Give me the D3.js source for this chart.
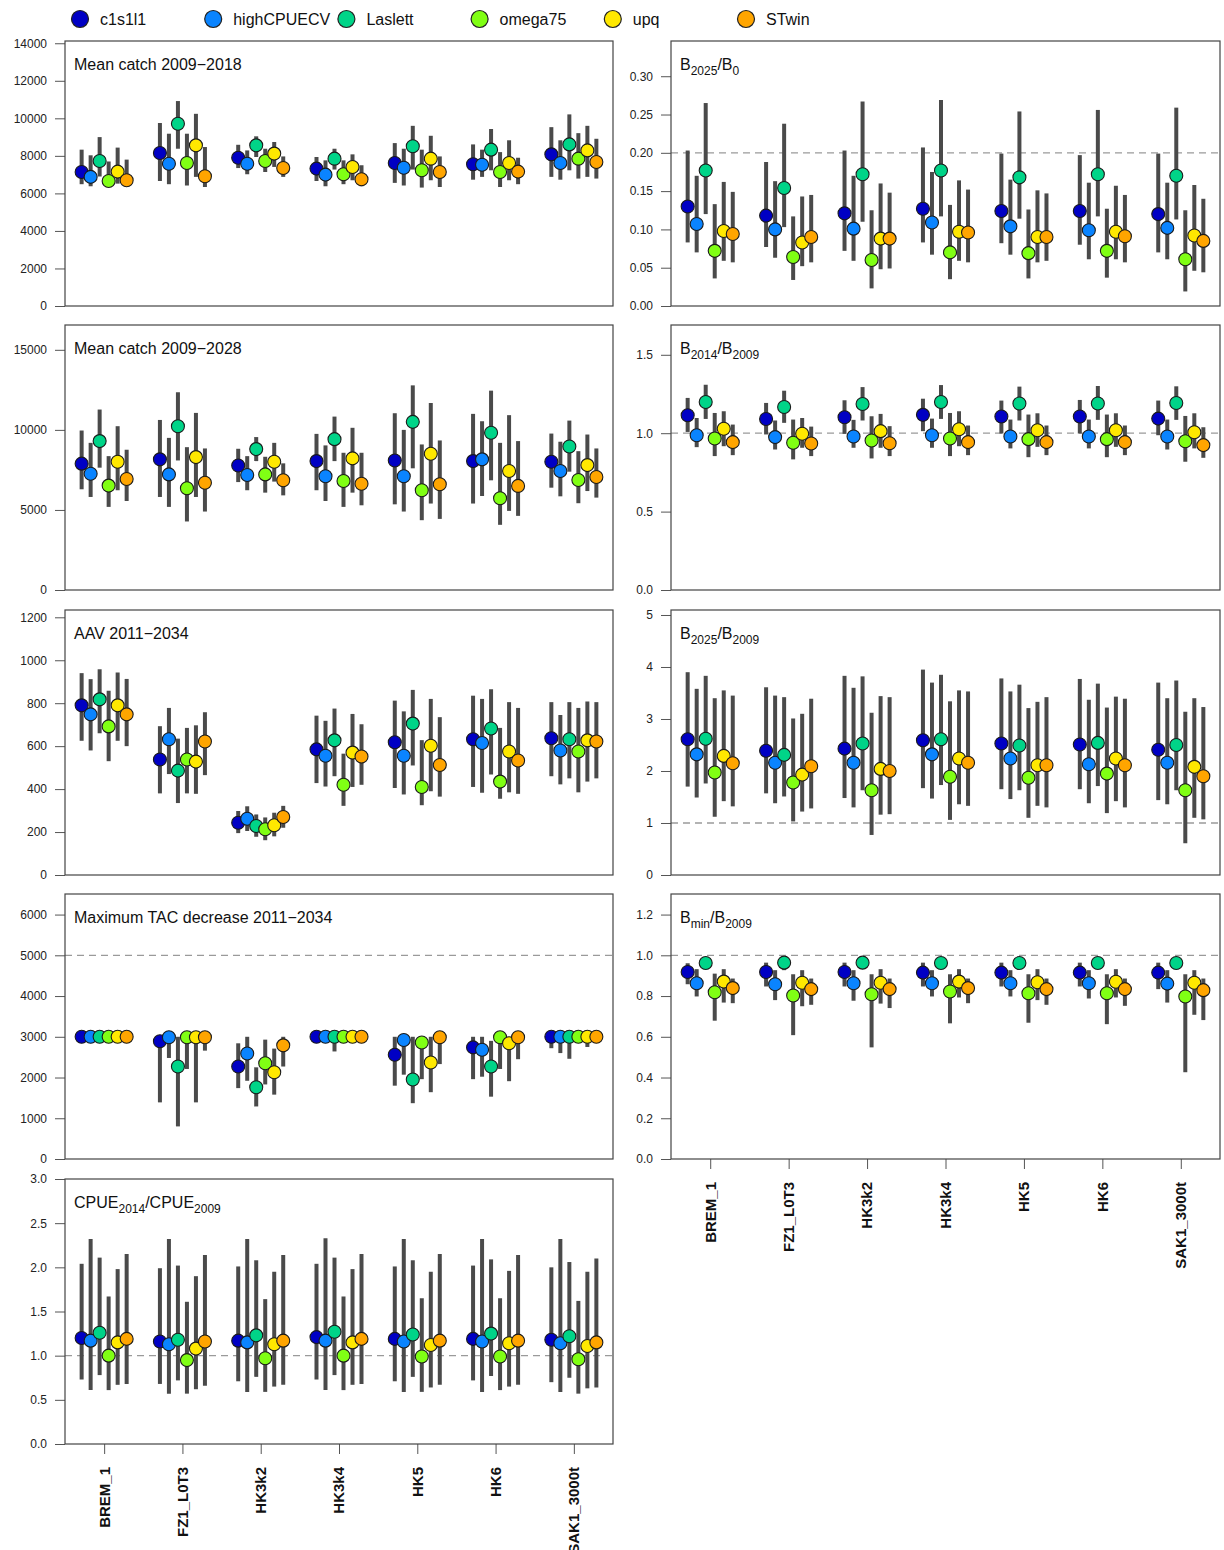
<!DOCTYPE html>
<html>
<head>
<meta charset="utf-8">
<script src="https://cdn.jsdelivr.net/npm/d3@7"></script>
<style>
  html, body { margin: 0; padding: 0; background: #fff; }
  svg { display: block; font-family: "Liberation Sans", Arial, sans-serif; }
</style>
</head>
<body>
<svg id="chart" width="1224" height="1550"></svg>
<script>
// Management procedures (series) and operating-model scenarios (groups)
const groups = ["BREM_1", "FZ1_L0T3", "HK3k2", "HK3k4", "HK5", "HK6", "SAK1_3000t"];
const series = ["c1s1l1", "highCPUECV", "Laslett", "omega75", "upq", "STwin"];
const seriesColors = ["#0000C4", "#0A84FF", "#00D488", "#80FF14", "#FFE800", "#FFA500"];

// Each table: one row per group, one column per series (median, lower, upper)
const catch18Mid = [
  [7140, 6880, 7730, 6660, 7160, 6700],
  [8150, 7580, 9710, 7620, 8560, 6910],
  [7900, 7580, 8560, 7730, 8120, 7350],
  [7320, 7000, 7850, 7020, 7410, 6750],
  [7620, 7370, 8510, 7230, 7850, 7140],
  [7550, 7530, 8330, 7140, 7620, 7160],
  [8080, 7620, 8610, 7850, 8290, 7670]];
const catch18Lo = [
  [6490, 6380, 6900, 6350, 6520, 6380],
  [6660, 6490, 8380, 6420, 6880, 6340],
  [7350, 7020, 7940, 7140, 7410, 6880],
  [6660, 6380, 7270, 6490, 6700, 6380],
  [6560, 6420, 7270, 6310, 6700, 6340],
  [6730, 6880, 7230, 6340, 6700, 6490],
  [6880, 6730, 7230, 6790, 6880, 6790]];
const catch18Hi = [
  [8330, 8030, 9000, 7700, 8440, 7800],
  [9750, 9180, 10920, 9180, 10240, 8470],
  [8590, 8290, 9040, 8380, 8740, 7970],
  [7940, 7760, 8380, 7760, 8080, 7500],
  [8680, 8380, 9600, 8330, 9070, 7970],
  [8610, 8330, 9430, 8200, 8830, 7900],
  [9530, 8830, 10210, 9210, 9600, 8910]];

const catch28Mid = [
  [7890, 7260, 9300, 6520, 8010, 6930],
  [8160, 7220, 10230, 6350, 8300, 6700],
  [7780, 7180, 8800, 7220, 8010, 6850],
  [8050, 7100, 9420, 6810, 8220, 6640],
  [8090, 7100, 10500, 6230, 8510, 6600],
  [8050, 8160, 9820, 5730, 7430, 6500],
  [8010, 7430, 8960, 6870, 7800, 7060]];
const catch28Lo = [
  [6290, 5810, 7640, 5190, 6230, 5560],
  [5810, 5190, 8090, 4280, 5810, 4900],
  [6740, 6230, 8050, 6080, 6770, 5910],
  [6230, 5560, 8050, 5190, 6080, 5290],
  [5350, 4900, 7600, 4360, 5400, 4440],
  [5400, 5870, 6850, 4070, 4940, 4630],
  [6390, 5850, 7390, 5420, 6180, 5770]];
const catch28Hi = [
  [9960, 9190, 11270, 8360, 10230, 8760],
  [10620, 9500, 12350, 8920, 11060, 8840],
  [8820, 8360, 9550, 8320, 9190, 7910],
  [9750, 9030, 10830, 8570, 10130, 8570],
  [11040, 10000, 12780, 9090, 11680, 9340],
  [11000, 10540, 12450, 9190, 10920, 9300],
  [9770, 9260, 10580, 8670, 9710, 8840]];

const aavMid = [
  [790, 748, 818, 692, 790, 748],
  [538, 632, 486, 538, 528, 622],
  [243, 262, 228, 213, 232, 270],
  [585, 555, 627, 420, 570, 552],
  [618, 555, 705, 410, 602, 512],
  [632, 615, 682, 435, 575, 533],
  [637, 580, 632, 575, 627, 622]];
const aavLo = [
  [625, 580, 660, 530, 625, 600],
  [380, 470, 335, 380, 378, 465],
  [195, 205, 178, 162, 180, 220],
  [428, 412, 460, 322, 410, 420],
  [405, 375, 510, 325, 390, 365],
  [410, 383, 468, 355, 385, 378],
  [460, 422, 450, 385, 435, 450]];
const aavHi = [
  [940, 912, 958, 858, 943, 913],
  [693, 778, 635, 685, 697, 758],
  [298, 320, 282, 268, 290, 322],
  [742, 718, 775, 565, 750, 702],
  [812, 762, 862, 628, 820, 735],
  [835, 820, 865, 685, 805, 778],
  [805, 745, 805, 778, 808, 805]];

const tacMid = [
  [3000, 3000, 3000, 3000, 3000, 3000],
  [2890, 2990, 2270, 2990, 2990, 2990],
  [2270, 2590, 1760, 2350, 2130, 2790],
  [3000, 3000, 3000, 3000, 3000, 3000],
  [2560, 2920, 1950, 2860, 2370, 2990],
  [2740, 2680, 2270, 2990, 2840, 2990],
  [3000, 3000, 3000, 3000, 3000, 3000]];
const tacLo = [
  [2990, 2990, 2990, 2990, 2990, 2990],
  [1390, 2480, 800, 2210, 1390, 2660],
  [1740, 1920, 1290, 1830, 1580, 2270],
  [2990, 2990, 2640, 2990, 2990, 2990],
  [1800, 2070, 1370, 1960, 1640, 2330],
  [1960, 2020, 1530, 2210, 1910, 2450],
  [2720, 2600, 2460, 2990, 2750, 2990]];
const tacHi = [
  [3000, 3000, 3000, 3000, 3000, 3000],
  [3000, 3000, 3000, 3000, 3000, 3000],
  [2840, 3000, 2250, 2930, 2710, 3000],
  [3000, 3000, 3000, 3000, 3000, 3000],
  [3000, 3000, 3000, 3000, 3000, 3000],
  [3000, 3000, 2900, 3000, 3000, 3000],
  [3000, 3000, 3000, 3000, 3000, 3000]];

const cpueMid = [
  [1.20, 1.17, 1.26, 1.00, 1.15, 1.19],
  [1.16, 1.13, 1.18, 0.95, 1.08, 1.16],
  [1.17, 1.15, 1.23, 0.97, 1.13, 1.17],
  [1.21, 1.17, 1.27, 1.00, 1.15, 1.19],
  [1.19, 1.16, 1.24, 0.99, 1.12, 1.17],
  [1.19, 1.16, 1.25, 0.99, 1.14, 1.17],
  [1.18, 1.14, 1.22, 0.96, 1.11, 1.15]];
const cpueLo = [
  [0.73, 0.61, 0.78, 0.61, 0.67, 0.68],
  [0.68, 0.57, 0.72, 0.57, 0.62, 0.66],
  [0.71, 0.59, 0.76, 0.59, 0.65, 0.67],
  [0.73, 0.61, 0.78, 0.61, 0.67, 0.68],
  [0.71, 0.59, 0.76, 0.59, 0.64, 0.67],
  [0.72, 0.59, 0.77, 0.61, 0.65, 0.67],
  [0.70, 0.59, 0.75, 0.57, 0.63, 0.64]];
const cpueHi = [
  [2.04, 2.32, 2.11, 1.67, 1.98, 2.15],
  [1.99, 2.32, 2.02, 1.61, 1.90, 2.14],
  [2.01, 2.32, 2.08, 1.64, 1.95, 2.14],
  [2.04, 2.33, 2.11, 1.67, 1.98, 2.15],
  [2.01, 2.32, 2.08, 1.65, 1.95, 2.15],
  [2.02, 2.32, 2.09, 1.65, 1.96, 2.14],
  [2.00, 2.32, 2.06, 1.62, 1.95, 2.10]];

const b2025b0Mid = [
  [0.130, 0.107, 0.177, 0.072, 0.098, 0.094],
  [0.118, 0.100, 0.154, 0.064, 0.083, 0.090],
  [0.121, 0.101, 0.172, 0.060, 0.088, 0.088],
  [0.127, 0.109, 0.177, 0.070, 0.097, 0.096],
  [0.124, 0.104, 0.168, 0.069, 0.090, 0.090],
  [0.124, 0.099, 0.172, 0.072, 0.097, 0.091],
  [0.120, 0.102, 0.170, 0.061, 0.092, 0.085]];
const b2025b0Lo = [
  [0.083, 0.070, 0.120, 0.036, 0.059, 0.057],
  [0.077, 0.063, 0.103, 0.034, 0.052, 0.057],
  [0.072, 0.059, 0.110, 0.023, 0.048, 0.049],
  [0.083, 0.067, 0.117, 0.035, 0.059, 0.057],
  [0.082, 0.067, 0.114, 0.036, 0.057, 0.059],
  [0.080, 0.061, 0.117, 0.037, 0.061, 0.057],
  [0.070, 0.061, 0.113, 0.019, 0.046, 0.044]];
const b2025b0Hi = [
  [0.203, 0.170, 0.265, 0.133, 0.162, 0.149],
  [0.188, 0.163, 0.238, 0.117, 0.143, 0.145],
  [0.203, 0.170, 0.267, 0.125, 0.160, 0.148],
  [0.207, 0.175, 0.269, 0.132, 0.164, 0.152],
  [0.199, 0.165, 0.254, 0.126, 0.151, 0.147],
  [0.197, 0.161, 0.256, 0.127, 0.157, 0.145],
  [0.199, 0.161, 0.259, 0.125, 0.158, 0.140]];

const b2014Mid = [
  [1.114, 0.987, 1.199, 0.966, 1.028, 0.943],
  [1.091, 0.975, 1.167, 0.939, 0.996, 0.934],
  [1.102, 0.979, 1.186, 0.953, 1.013, 0.936],
  [1.117, 0.987, 1.199, 0.966, 1.025, 0.943],
  [1.106, 0.979, 1.189, 0.962, 1.019, 0.943],
  [1.106, 0.979, 1.189, 0.962, 1.019, 0.943],
  [1.093, 0.979, 1.193, 0.949, 1.006, 0.924]];
const b2014Lo = [
  [1.008, 0.911, 1.091, 0.854, 0.917, 0.860],
  [0.992, 0.896, 1.066, 0.833, 0.907, 0.854],
  [0.996, 0.907, 1.081, 0.839, 0.907, 0.854],
  [1.013, 0.907, 1.091, 0.854, 0.917, 0.860],
  [0.998, 0.903, 1.081, 0.847, 0.913, 0.860],
  [0.998, 0.903, 1.085, 0.847, 0.913, 0.860],
  [0.987, 0.896, 1.085, 0.818, 0.903, 0.843]];
const b2014Hi = [
  [1.225, 1.097, 1.309, 1.129, 1.140, 1.055],
  [1.193, 1.081, 1.271, 1.087, 1.097, 1.042],
  [1.210, 1.085, 1.294, 1.108, 1.123, 1.045],
  [1.220, 1.093, 1.307, 1.129, 1.140, 1.049],
  [1.208, 1.087, 1.297, 1.119, 1.127, 1.049],
  [1.212, 1.087, 1.301, 1.119, 1.127, 1.049],
  [1.208, 1.087, 1.299, 1.110, 1.127, 1.038]];

const b2025b2009Mid = [
  [2.61, 2.32, 2.62, 1.97, 2.29, 2.15],
  [2.39, 2.16, 2.31, 1.78, 1.93, 2.09],
  [2.43, 2.16, 2.53, 1.63, 2.04, 2.00],
  [2.59, 2.32, 2.61, 1.89, 2.24, 2.16],
  [2.53, 2.24, 2.49, 1.87, 2.11, 2.11],
  [2.51, 2.13, 2.54, 1.95, 2.24, 2.11],
  [2.41, 2.16, 2.50, 1.63, 2.08, 1.90]];
const b2025b2009Lo = [
  [1.70, 1.49, 1.76, 1.12, 1.42, 1.32],
  [1.57, 1.38, 1.51, 1.03, 1.22, 1.28],
  [1.48, 1.30, 1.63, 0.77, 1.16, 1.17],
  [1.67, 1.47, 1.73, 1.06, 1.36, 1.33],
  [1.65, 1.46, 1.63, 1.10, 1.33, 1.30],
  [1.65, 1.38, 1.71, 1.19, 1.42, 1.30],
  [1.44, 1.36, 1.63, 0.61, 1.10, 1.07]];
const b2025b2009Hi = [
  [3.90, 3.58, 3.83, 3.40, 3.55, 3.45],
  [3.61, 3.45, 3.42, 3.01, 3.10, 3.39],
  [3.83, 3.60, 3.82, 3.12, 3.44, 3.42],
  [3.95, 3.70, 3.85, 3.34, 3.55, 3.53],
  [3.78, 3.53, 3.66, 3.21, 3.33, 3.42],
  [3.77, 3.37, 3.68, 3.22, 3.43, 3.39],
  [3.70, 3.40, 3.74, 3.14, 3.40, 3.23]];

const bminMid = [
  [0.918, 0.863, 0.962, 0.819, 0.871, 0.839],
  [0.918, 0.858, 0.964, 0.803, 0.865, 0.834],
  [0.918, 0.863, 0.964, 0.809, 0.865, 0.834],
  [0.915, 0.863, 0.962, 0.822, 0.871, 0.839],
  [0.915, 0.863, 0.962, 0.814, 0.868, 0.834],
  [0.915, 0.863, 0.962, 0.814, 0.870, 0.834],
  [0.915, 0.861, 0.962, 0.798, 0.865, 0.829]];
const bminLo = [
  [0.858, 0.798, 0.940, 0.679, 0.768, 0.765],
  [0.847, 0.780, 0.927, 0.608, 0.750, 0.757],
  [0.847, 0.777, 0.935, 0.548, 0.763, 0.741],
  [0.847, 0.798, 0.940, 0.666, 0.793, 0.765],
  [0.847, 0.798, 0.940, 0.669, 0.780, 0.757],
  [0.847, 0.788, 0.940, 0.662, 0.793, 0.752],
  [0.834, 0.768, 0.940, 0.426, 0.708, 0.682]];
const bminHi = [
  [0.961, 0.932, 0.980, 0.910, 0.932, 0.886],
  [0.964, 0.927, 0.980, 0.907, 0.927, 0.886],
  [0.964, 0.927, 0.980, 0.907, 0.932, 0.886],
  [0.964, 0.927, 0.980, 0.907, 0.932, 0.886],
  [0.964, 0.927, 0.980, 0.907, 0.932, 0.886],
  [0.964, 0.927, 0.980, 0.907, 0.932, 0.886],
  [0.964, 0.927, 0.980, 0.907, 0.927, 0.886]];

// Panel titles: plain pieces and subscript pieces
const titleCatch18 = [["Mean catch 2009\u22122018", false]];
const titleCatch28 = [["Mean catch 2009\u22122028", false]];
const titleAAV = [["AAV 2011\u22122034", false]];
const titleTAC = [["Maximum TAC decrease 2011\u22122034", false]];
const titleCPUE = [["CPUE", false], ["2014", true], ["/CPUE", false], ["2009", true]];
const titleB2025B0 = [["B", false], ["2025", true], ["/B", false], ["0", true]];
const titleB2014 = [["B", false], ["2014", true], ["/B", false], ["2009", true]];
const titleB2025B2009 = [["B", false], ["2025", true], ["/B", false], ["2009", true]];
const titleBmin = [["B", false], ["min", true], ["/B", false], ["2009", true]];

// Panels: column, row, data, y-axis settings and optional reference line
const panels = [
  { col: 0, row: 0, title: titleCatch18, mid: catch18Mid, lo: catch18Lo, hi: catch18Hi,
    ymax: 14120, ticks: d3.range(0, 14001, 2000), fmt: d3.format("d"), ref: null },
  { col: 0, row: 1, title: titleCatch28, mid: catch28Mid, lo: catch28Lo, hi: catch28Hi,
    ymax: 16550, ticks: [0, 5000, 10000, 15000], fmt: d3.format("d"), ref: null },
  { col: 0, row: 2, title: titleAAV, mid: aavMid, lo: aavLo, hi: aavHi,
    ymax: 1234, ticks: d3.range(0, 1201, 200), fmt: d3.format("d"), ref: null },
  { col: 0, row: 3, title: titleTAC, mid: tacMid, lo: tacLo, hi: tacHi,
    ymax: 6505, ticks: d3.range(0, 6001, 1000), fmt: d3.format("d"), ref: 5000 },
  { col: 0, row: 4, title: titleCPUE, mid: cpueMid, lo: cpueLo, hi: cpueHi,
    ymax: 3.0, ticks: [0, 0.5, 1, 1.5, 2, 2.5, 3], fmt: d3.format(".1f"), ref: 1 },
  { col: 1, row: 0, title: titleB2025B0, mid: b2025b0Mid, lo: b2025b0Lo, hi: b2025b0Hi,
    ymax: 0.346, ticks: [0, 0.05, 0.1, 0.15, 0.2, 0.25, 0.3], fmt: d3.format(".2f"), ref: 0.2 },
  { col: 1, row: 1, title: titleB2014, mid: b2014Mid, lo: b2014Lo, hi: b2014Hi,
    ymax: 1.69, ticks: [0, 0.5, 1, 1.5], fmt: d3.format(".1f"), ref: 1 },
  { col: 1, row: 2, title: titleB2025B2009, mid: b2025b2009Mid, lo: b2025b2009Lo, hi: b2025b2009Hi,
    ymax: 5.096, ticks: [0, 1, 2, 3, 4, 5], fmt: d3.format("d"), ref: 1 },
  { col: 1, row: 3, title: titleBmin, mid: bminMid, lo: bminLo, hi: bminHi,
    ymax: 1.301, ticks: [0, 0.2, 0.4, 0.6, 0.8, 1.0, 1.2], fmt: d3.format(".1f"), ref: 1 }
];

// ---- layout ----
const colLeft = [65, 671];
const colRight = [613, 1220];
const rowTop = [41, 325, 610, 894, 1179];
const panelH = 265;
const lastRow = [4, 3];

const svg = d3.select("#chart");
svg.append("rect").attr("width", 1224).attr("height", 1550).attr("fill", "#fff");

const color = d3.scaleOrdinal().domain(series).range(seriesColors);

// Legend along the top
const legendX = d3.scalePoint().domain(series).range([80, 746]);
const legend = svg.append("g").attr("class", "legend");
series.forEach(s => {
  const cx = legendX(s);
  legend.append("circle").attr("cx", cx).attr("cy", 19).attr("r", 8.5)
    .attr("fill", color(s)).attr("stroke", "#222").attr("stroke-width", 1.2);
  legend.append("text").attr("x", cx + 20).attr("y", 24.5)
    .attr("font-size", 16).attr("fill", "#111").text(s);
});

panels.forEach(p => {
  const x0 = colLeft[p.col], x1 = colRight[p.col];
  const y0 = rowTop[p.row], y1 = y0 + panelH;

  const x = d3.scalePoint().domain(groups).range([x0, x1]).padding(0.5);
  const off = d3.scalePoint().domain(series).range([-0.2875 * x.step(), 0.2875 * x.step()]);
  const y = d3.scaleLinear().domain([0, p.ymax]).range([y1, y0]);

  const g = svg.append("g");

  // y axis
  const yAxis = d3.axisLeft(y).tickValues(p.ticks).tickFormat(p.fmt)
    .tickSize(10).tickPadding(8);
  const ay = g.append("g").attr("transform", `translate(${x0},0)`).call(yAxis);
  ay.select(".domain").remove();
  ay.selectAll(".tick line").attr("stroke", "#555");
  ay.selectAll(".tick text").attr("font-size", 12).attr("fill", "#222")
    .attr("font-family", "Liberation Sans, Arial, sans-serif");

  // x axis only under the last panel of each column
  if (p.row === lastRow[p.col]) {
    const xAxis = d3.axisBottom(x).tickSize(10).tickFormat("");
    const ax = g.append("g").attr("transform", `translate(0,${y1})`).call(xAxis);
    ax.select(".domain").remove();
    ax.selectAll(".tick line").attr("stroke", "#555");
    groups.forEach(gr => {
      g.append("text")
        .attr("transform", `translate(${x(gr)},${y1 + 23}) rotate(-90)`)
        .attr("text-anchor", "end").attr("dy", "0.36em")
        .attr("font-size", 15).attr("font-weight", "bold").attr("fill", "#111")
        .text(gr);
    });
  }

  // reference line
  if (p.ref !== null) {
    g.append("line").attr("x1", x0).attr("x2", x1)
      .attr("y1", y(p.ref)).attr("y2", y(p.ref))
      .attr("stroke", "#9a9a9a").attr("stroke-width", 1.3).attr("stroke-dasharray", "7,5");
  }

  // one record per group and series
  const recs = [];
  groups.forEach((gr, gi) => series.forEach((s, si) => {
    recs.push({ gr, s, mid: p.mid[gi][si], lo: p.lo[gi][si], hi: p.hi[gi][si] });
  }));

  g.append("g").selectAll("line").data(recs).join("line")
    .attr("x1", d => x(d.gr) + off(d.s)).attr("x2", d => x(d.gr) + off(d.s))
    .attr("y1", d => y(d.lo)).attr("y2", d => y(d.hi))
    .attr("stroke", "#4a4a4a").attr("stroke-width", 4);

  g.append("g").selectAll("circle").data(recs).join("circle")
    .attr("cx", d => x(d.gr) + off(d.s)).attr("cy", d => y(d.mid)).attr("r", 6.5)
    .attr("fill", d => color(d.s)).attr("stroke", "#1a1a1a").attr("stroke-width", 1.1);

  // panel box
  g.append("rect").attr("x", x0).attr("y", y0).attr("width", x1 - x0).attr("height", panelH)
    .attr("fill", "none").attr("stroke", "#444").attr("stroke-width", 1.2);

  // title with subscripts
  const t = g.append("text").attr("x", x0 + 9).attr("y", y0 + 29)
    .attr("font-size", 16).attr("fill", "#111");
  let shifted = false;
  p.title.forEach(([txt, sub]) => {
    const ts = t.append("tspan").text(txt);
    if (sub && !shifted) { ts.attr("dy", 4.5).attr("font-size", 12); shifted = true; }
    else if (sub) { ts.attr("font-size", 12); }
    else if (shifted) { ts.attr("dy", -4.5); shifted = false; }
  });
});
</script>
</body>
</html>
